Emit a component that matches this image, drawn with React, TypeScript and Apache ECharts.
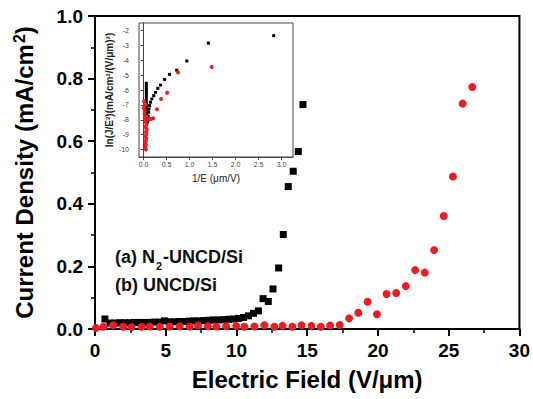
import React, { useEffect, useRef } from "react";
import * as echarts from "echarts";

// Main plot: N2-UNCD/Si (black squares)
const blackX = [0.7, 1.05, 1.4, 1.75, 2.1, 2.45, 2.8, 3.15, 3.5, 3.85, 4.2, 4.55, 4.9, 5.25, 5.6, 5.95, 6.3, 6.65, 7.0, 7.35, 7.7, 8.05, 8.4, 8.75, 9.1, 9.45, 9.8, 10.15, 10.5, 10.85, 11.2, 11.55, 11.88, 12.25, 12.58, 12.98, 13.31, 13.66, 14.01, 14.37, 14.7];
const blackY = [0.032, 0.019, 0.019, 0.02, 0.02, 0.02, 0.021, 0.021, 0.021, 0.021, 0.022, 0.022, 0.026, 0.023, 0.023, 0.024, 0.024, 0.025, 0.026, 0.026, 0.027, 0.028, 0.029, 0.029, 0.03, 0.031, 0.032, 0.034, 0.037, 0.042, 0.05, 0.058, 0.097, 0.088, 0.128, 0.195, 0.302, 0.455, 0.504, 0.567, 0.717];

// Main plot: UNCD/Si (red circles)
const redX = [0.07, 0.59, 1.29, 1.99, 2.58, 3.29, 3.87, 4.58, 5.28, 5.99, 6.69, 7.28, 7.98, 8.57, 9.27, 9.98, 10.56, 11.27, 11.97, 12.68, 13.26, 13.95, 14.6, 15.3, 15.96, 16.62, 17.3, 17.96, 18.61, 19.27, 19.93, 20.61, 21.29, 21.97, 22.63, 23.31, 23.97, 24.65, 25.3, 25.99, 26.67];
const redY = [0.003, 0.007, 0.012, 0.007, 0.006, 0.007, 0.008, 0.007, 0.008, 0.009, 0.008, 0.011, 0.009, 0.008, 0.009, 0.01, 0.007, 0.008, 0.012, 0.007, 0.01, 0.007, 0.012, 0.01, 0.007, 0.011, 0.013, 0.034, 0.052, 0.087, 0.047, 0.112, 0.115, 0.137, 0.188, 0.18, 0.252, 0.361, 0.487, 0.72, 0.773];

// Inset (F-N plot)
const insetBlackX = [2.83, 1.41, 0.94, 0.72, 0.565, 0.457, 0.37, 0.31, 0.26, 0.22, 0.18, 0.15, 0.13, 0.115, 0.11, 0.1, 0.095, 0.085, 0.08, 0.075, 0.07, 0.06, 0.06, 0.06, 0.06, 0.06, 0.06, 0.06, 0.06, 0.06, 0.06, 0.06, 0.06, 0.06, 0.06, 0.06];
const insetBlackY = [-2.35, -2.85, -4.05, -4.67, -4.95, -5.29, -5.67, -5.89, -6.16, -6.38, -6.6, -6.82, -7.04, -7.27, -7.49, -7.78, -8.07, -8.15, -7.95, -7.7, -7.45, -5.55, -5.7, -5.85, -6.0, -6.15, -6.3, -6.5, -6.7, -6.9, -7.1, -7.3, -7.5, -7.7, -7.9, -8.1];
const insetRedX = [1.48, 0.75, 0.51, 0.38, 0.29, 0.21, 0.01, 0.04, 0.0, 0.03, 0.02, 0.05, 0.03, 0.08, 0.12, 0.16, 0.04, 0.06, 0.04, 0.07, 0.05, 0.06, 0.04, 0.06, 0.05, 0.04, 0.05, 0.04, 0.05];
const insetRedY = [-4.45, -4.82, -6.18, -6.6, -7.3, -7.9, -6.75, -7.0, -7.2, -7.4, -7.6, -7.8, -7.95, -7.95, -7.95, -7.95, -8.15, -8.35, -8.5, -8.65, -8.8, -8.95, -9.1, -9.25, -9.4, -9.55, -9.7, -9.85, -10.0];

const xTicks = [0, 5, 10, 15, 20, 25, 30];
const insetXTicks = [0, 0.5, 1, 1.5, 2, 2.5, 3];
const insetYTicks = [-10, -9, -8, -7, -6, -5, -4, -3, -2];

const FONT = "Arial, 'Liberation Sans', sans-serif";
const RED = "#ec1c24";

const zip = (xs: number[], ys: number[]) => xs.map((x, i) => [x, ys[i]]);

export default function App() {
  const ref = useRef<HTMLDivElement>(null);
  useEffect(() => {
    if (!ref.current) return;
    const chart = echarts.init(ref.current, undefined, { renderer: "svg" });
    const mainLabel = { fontSize: 19, fontWeight: "bold" as const, color: "#000", fontFamily: FONT };
    chart.setOption({
      animation: false,
      backgroundColor: "#fff",
      grid: [
        { left: 95, top: 16, width: 426, height: 313, show: true, borderColor: "#000", borderWidth: 2 },
        { left: 139, top: 23, width: 154, height: 134, show: true, borderColor: "#444", borderWidth: 1, backgroundColor: "#fff" },
      ],
      xAxis: [
        {
          type: "value", gridIndex: 0, min: xTicks[0], max: xTicks[xTicks.length - 1], interval: 5,
          axisLine: { lineStyle: { color: "#000", width: 2 } },
          axisTick: { length: 7, lineStyle: { color: "#000", width: 2 } },
          minorTick: { show: true, splitNumber: 2, length: 4, lineStyle: { color: "#000", width: 1.5 } },
          splitLine: { show: false },
          axisLabel: { ...mainLabel, margin: 12 },
          name: "Electric Field (V/μm)", nameLocation: "middle", nameGap: 38,
          nameTextStyle: { fontSize: 24, fontWeight: "bold", color: "#000", fontFamily: FONT },
        },
        {
          type: "value", gridIndex: 1, min: -0.1, max: 3.25,
          axisLine: { lineStyle: { color: "#444", width: 1 } },
          axisTick: { length: 3, customValues: insetXTicks, lineStyle: { color: "#444" } },
          splitLine: { show: false },
          axisLabel: { fontSize: 7, color: "#444", margin: 4, fontFamily: FONT, customValues: insetXTicks, formatter: (v: number) => v.toFixed(1) },
          name: "1/E (μm/V)", nameLocation: "middle", nameGap: 16,
          nameTextStyle: { fontSize: 10, color: "#222", fontFamily: FONT },
        },
      ],
      yAxis: [
        {
          type: "value", gridIndex: 0, min: 0, max: 1, interval: 0.2,
          axisLine: { lineStyle: { color: "#000", width: 2 } },
          axisTick: { length: 7, lineStyle: { color: "#000", width: 2 } },
          minorTick: { show: true, splitNumber: 2, length: 4, lineStyle: { color: "#000", width: 1.5 } },
          splitLine: { show: false },
          axisLabel: { ...mainLabel, margin: 12, formatter: (v: number) => v.toFixed(1) },
          name: "Current Density (mA/cm{sup|2})", nameLocation: "middle", nameGap: 58,
          nameTextStyle: {
            fontSize: 24, fontWeight: "bold", color: "#000", fontFamily: FONT,
            rich: { sup: { fontSize: 16, fontWeight: "bold", color: "#000", fontFamily: FONT, verticalAlign: "top", padding: [0, 0, 10, 1] } },
          },
        },
        {
          type: "value", gridIndex: 1, min: -10.5, max: -1.5,
          axisLine: { lineStyle: { color: "#444", width: 1 } },
          axisTick: { length: 3, customValues: insetYTicks, lineStyle: { color: "#444" } },
          splitLine: { show: false },
          axisLabel: { fontSize: 7, color: "#444", margin: 10, fontFamily: FONT, customValues: insetYTicks },
          name: "ln(J/E²)(mA/cm²/(V/μm)²)", nameLocation: "middle", nameGap: 25,
          nameTextStyle: { fontSize: 10, fontWeight: "bold", color: "#222", fontFamily: FONT },
        },
      ],
      series: [
        { type: "scatter", xAxisIndex: 0, yAxisIndex: 0, symbol: "rect", symbolSize: 7, itemStyle: { color: "#000", opacity: 1 }, data: zip(blackX, blackY) },
        { type: "scatter", xAxisIndex: 0, yAxisIndex: 0, symbol: "circle", symbolSize: 8, itemStyle: { color: RED, opacity: 1 }, data: zip(redX, redY) },
        { type: "scatter", xAxisIndex: 1, yAxisIndex: 1, symbol: "rect", symbolSize: 3, itemStyle: { color: "#000", opacity: 1 }, data: zip(insetBlackX, insetBlackY) },
        { type: "scatter", xAxisIndex: 1, yAxisIndex: 1, symbol: "circle", symbolSize: 4, itemStyle: { color: RED, opacity: 1 }, data: zip(insetRedX, insetRedY) },
      ],
      graphic: [
        {
          type: "text", left: 115, top: 248,
          style: {
            text: "(a) N{sub|2}-UNCD/Si",
            font: `bold 18px ${FONT}`, fill: "#111",
            rich: {
              sub: { fontSize: 11, fontWeight: "bold", fontFamily: FONT, fill: "#111", verticalAlign: "top", padding: [12, 1, 0, 1], lineHeight: 11 },
            },
          },
        },
        {
          type: "text", left: 115, top: 276,
          style: { text: "(b) UNCD/Si", font: `bold 18px ${FONT}`, fill: "#111" },
        },
      ],
    });
    return () => chart.dispose();
  }, []);
  return <div ref={ref} style={{ position: "fixed", left: 0, top: 0, width: 533, height: 399, background: "#fff" }} />;
}
